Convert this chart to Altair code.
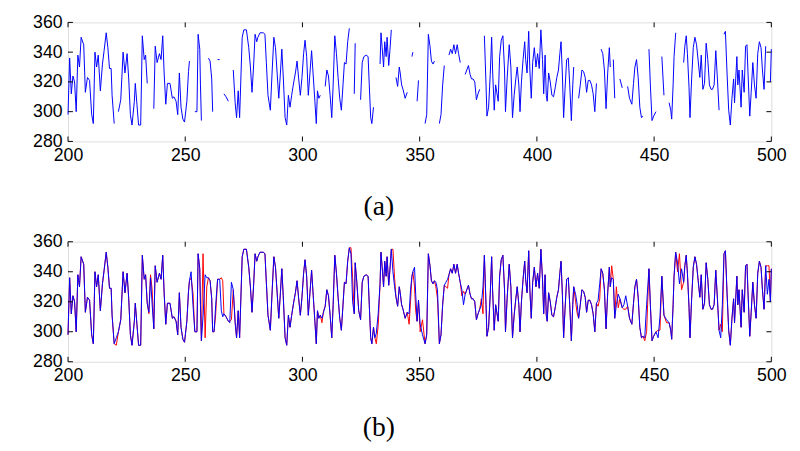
import altair as alt
import pandas as pd

# sample positions (x) and values of the full series (blue)
t = [
 200.0, 200.7, 201.4, 202.1, 202.8, 203.5, 204.2, 204.9, 205.6, 206.7,
 207.4, 208.3, 209.2, 210.1, 210.8, 211.5, 212.2, 212.9, 213.8, 214.7,
 215.4, 216.3, 217.0, 217.7, 218.4, 218.8, 219.7, 220.6, 221.5, 222.5,
 223.5, 224.3, 225.2, 225.9, 226.6, 227.3, 228.3, 228.7, 229.4, 230.1,
 231.0, 231.7, 232.5, 233.1, 233.8, 234.5, 235.2, 235.9, 236.6, 237.2,
 238.0, 239.0, 239.7, 240.4, 241.0, 241.7, 242.4, 243.5, 244.5, 245.2,
 246.1, 246.8, 247.5, 248.2, 249.0, 249.7, 250.7, 251.4, 251.8, 252.5,
 253.3, 254.1, 255.0, 255.5, 256.2, 256.5, 256.9, 257.6, 258.5, 259.2,
 259.9, 260.6, 261.3, 261.7, 262.3, 263.0, 263.8, 264.7, 265.4, 266.0,
 266.5, 267.4, 268.4, 269.0, 269.7, 270.5, 271.3, 271.9, 272.6, 273.2,
 274.3, 275.0, 276.1, 277.1, 277.8, 278.5, 279.2, 279.8, 280.5, 281.0,
 281.9, 283.3, 284.0, 284.6, 285.3, 286.3, 287.1, 287.8, 288.5, 289.2,
 289.9, 290.6, 291.2, 291.8, 292.6, 293.3, 294.0, 294.7, 295.4, 296.3,
 297.0, 297.7, 298.4, 299.1, 299.8, 300.5, 301.1, 301.8, 302.5, 303.2,
 303.9, 304.6, 305.3, 305.9, 306.4, 307.0, 307.6, 308.3, 309.0, 309.7,
 310.4, 311.1, 311.8, 312.5, 313.1, 313.8, 314.5, 315.2, 315.9, 316.6,
 317.3, 317.9, 318.6, 319.3, 320.0, 320.7, 321.4, 322.1, 322.5, 323.2,
 324.0, 324.8, 325.5, 326.2, 327.2, 328.0, 328.5, 329.1, 329.6, 330.3,
 330.9, 331.5, 332.3, 333.1, 333.5, 334.0, 334.6, 335.1, 335.7, 336.1,
 336.8, 337.3, 337.9, 338.6, 339.3, 339.9, 340.6, 341.3, 341.7, 342.3,
 342.9, 343.8, 344.7, 345.5, 346.1, 346.7, 347.1, 347.8, 348.3, 348.9,
 349.5, 350.2, 351.2, 352.3, 353.0, 353.7, 354.4, 355.0, 355.7, 356.3,
 356.9, 357.6, 358.4, 359.1, 359.8, 360.5, 361.2, 361.9, 362.5, 363.2,
 363.9, 364.6, 365.3, 366.0, 366.6, 367.3, 368.0, 368.7, 369.4, 370.1,
 370.8, 371.5, 372.1, 372.8, 373.5, 374.2, 374.9, 375.6, 376.3, 377.0,
 377.6, 378.3, 378.7, 379.4, 380.1, 380.7, 381.1, 381.8, 382.4, 383.5,
 384.1, 384.8, 385.5, 386.2, 386.6, 387.3, 388.2, 388.9, 389.6, 390.3,
 391.0, 391.6, 392.3, 392.8, 393.4, 394.1, 394.8, 395.2, 395.8, 396.5,
 397.0, 397.6, 398.2, 398.9, 399.6, 400.3, 401.0, 401.7, 402.4, 402.9,
 403.5, 404.0, 404.4, 405.0, 405.7, 406.4, 407.1, 407.8, 408.5, 409.2,
 409.8, 410.3, 410.9, 411.4, 412.0, 412.7, 413.4, 414.0, 414.7, 415.3,
 415.7, 416.5, 417.2, 417.8, 418.5, 419.2, 419.9, 420.6, 421.2, 421.9,
 422.6, 423.3, 424.0, 424.7, 425.4, 426.1, 426.8, 427.4, 428.1, 428.8,
 429.5, 430.2, 430.9, 431.3, 431.9, 432.6, 433.2, 433.9, 434.7, 435.4,
 436.4, 437.1, 437.9, 438.7, 439.5, 440.5, 441.2, 441.8, 442.5, 443.2,
 443.9, 444.6, 445.3, 446.0, 446.8, 447.8, 448.4, 449.1, 449.8, 450.8,
 451.7, 452.5, 453.3, 454.2, 455.3, 456.4, 457.1, 457.5, 458.1, 458.5,
 459.2, 460.0, 460.8, 461.7, 462.6, 463.1, 463.7, 464.2, 464.9, 465.3,
 466.0, 466.7, 467.4, 468.1, 468.8, 469.5, 470.1, 470.8, 471.5, 472.2,
 472.9, 473.6, 474.3, 474.9, 475.6, 476.3, 477.0, 477.7, 478.4, 479.1,
 479.8, 480.4, 481.1, 481.8, 482.5, 483.2, 483.9, 484.3, 484.8, 485.3,
 485.7, 486.2, 487.1, 487.6, 488.4, 489.0, 489.6, 490.0, 490.8, 491.4,
 492.1, 492.8, 493.5, 494.2, 494.9, 495.6, 496.2, 496.9, 497.6, 498.3,
 499.0, 499.6, 500.0,
]

blue = [
 298, 336, 312, 324, 320, 300, 338, 330, 350, 345,
 313, 323, 321, 298, 292, 340, 330, 338, 314, 332,
 341, 353, 343, 329, 329, 311, 292, 296, 300, 308,
 340, 326, 339, 322, 298, 291, 307, 319, 305, 291,
 291, 351, 335, 338, 319, 313, 336, 318, 302, 344,
 333, 339, 335, 351, 326, 305, 319, 319, 309, 310,
 307, 298, 326, 303, 295, 293, 307, 327, 334, 340,
 318, 300, 300, 352, 342, 318, 294, 310, 338, 336,
 336, 334, 322, 300, 300, 318, 335, 335, 314, 310,
 312, 310, 307, 306, 333, 328, 306, 296, 314, 296,
 350, 355, 355, 343, 330, 313, 332, 352, 347, 350,
 353, 353, 352, 333, 311, 301, 328, 350, 343, 326,
 309, 326, 342, 324, 296, 291, 311, 303, 311, 320,
 326, 334, 322, 311, 323, 339, 348, 337, 311, 326,
 341, 324, 307, 292, 314, 309, 311, 309, 313, 317,
 328, 324, 311, 296, 318, 351, 339, 323, 309, 301,
 318, 333, 332, 347, 356, 352, 320, 312, 346, 333,
 314, 308, 333, 337, 338, 337, 318, 296, 292, 303,
 296, 299, 312, 332, 353, 343, 330, 347, 337, 350,
 331, 341, 355, 340, 330, 323, 317, 330, 326, 318,
 315, 309, 313, 312, 328, 337, 340, 343, 325, 307,
 321, 305, 298, 292, 298, 352, 344, 334, 332, 334,
 333, 328, 292, 298, 318, 331, 333, 335, 338, 342,
 339, 345, 339, 345, 339, 333, 328, 318, 325, 328,
 331, 325, 322, 322, 320, 308, 312, 315, 318, 330,
 351, 318, 297, 303, 325, 350, 328, 301, 318, 307,
 337, 348, 351, 328, 300, 322, 345, 330, 296, 311,
 322, 330, 318, 300, 320, 335, 347, 335, 326, 354,
 328, 309, 333, 343, 330, 339, 329, 355, 335, 312,
 338, 311, 307, 326, 320, 311, 310, 316, 323, 328,
 339, 347, 324, 296, 315, 335, 336, 318, 294, 318,
 330, 325, 318, 309, 318, 328, 327, 323, 313, 321,
 321, 318, 312, 300, 319, 321, 332, 342, 339, 328,
 302, 326, 343, 330, 336, 335, 309, 318, 325, 322,
 316, 318, 324, 317, 309, 305, 319, 330, 335, 323,
 303, 296, 297, 296, 318, 342, 318, 294, 297, 300,
 296, 310, 337, 311, 308, 306, 301, 295, 318, 337,
 353, 346, 332, 342, 333, 344, 351, 339, 316, 296,
 322, 343, 350, 345, 334, 323, 338, 315, 319, 346,
 335, 318, 315, 315, 318, 341, 322, 301, 296, 318,
 352, 354, 326, 301, 291, 309, 322, 306, 322, 337,
 318, 328, 303, 328, 313, 344, 345, 328, 297, 313,
 333, 318, 309, 339, 347, 343, 328, 315, 344, 325,
 335, 320, 342,
]

# samples missing in panel (a); red = original values at those samples in panel (b)
gap_t = [
 220.6, 234.5, 235.2, 235.9, 252.5, 253.3, 257.6, 258.5, 259.2, 262.3,
 263.0, 265.4, 266.0, 269.0, 269.7, 308.3, 309.0, 320.7, 321.4, 323.2,
 324.0, 330.9, 331.5, 332.3, 338.6, 339.3, 345.5, 346.1, 347.8, 348.3,
 350.2, 351.2, 356.9, 357.6, 361.2, 361.9, 368.0, 368.7, 376.3, 377.0,
 416.5, 417.2, 426.1, 426.8, 431.9, 433.9, 434.7, 437.1, 437.9, 446.0,
 446.8, 451.7, 452.5, 455.3, 460.0, 460.8, 461.7, 478.4, 479.1, 498.3,
 499.0,
]
red_v = [
 291, 312, 338, 328, 336, 326, 352, 296, 330, 300,
 312, 336, 334, 307, 308, 306, 314, 356, 336, 333,
 314, 296, 292, 304, 355, 336, 305, 320, 330, 314,
 300, 308, 330, 322, 330, 329, 324, 327, 322, 312,
 320, 312, 317, 322, 344, 330, 316, 315, 315, 294,
 300, 301, 301, 306, 340, 352, 328, 305, 300, 344,
 344,
]

x_ticks = [200, 250, 300, 350, 400, 450, 500]
y_ticks = [280, 300, 320, 340, 360]
captions = ["(a)", "(b)"]

assert len(t) == len(blue) and len(gap_t) == len(red_v)

df = pd.DataFrame({"t": t, "v": blue})
key = df["t"].round(1)
gset = {round(g, 1) for g in gap_t}
df["seen"] = ~key.isin(gset)
df["seg"] = (~df["seen"]).cumsum()
rmap = {round(g, 1): r for g, r in zip(gap_t, red_v)}
df["r"] = [rmap.get(round(a, 1), b) for a, b in zip(df["t"], df["v"])]
top_df = df[df["seen"]].copy()

W = 715
FONT = "Liberation Sans"
xs = alt.Scale(domain=[200, 500], nice=False, zero=False)
ys = alt.Scale(domain=[280, 360], nice=False, zero=False)
xaxis = alt.Axis(values=x_ticks, ticks=False, domain=False, grid=False, title=None,
                 labelFont=FONT, labelFontSize=18, labelColor="black", labelPadding=5,
                 labelFlush=False, format="d")
yaxis = alt.Axis(values=y_ticks, ticks=False, domain=False, grid=False, title=None,
                 labelFont=FONT, labelFontSize=18, labelColor="black", labelPadding=6,
                 format="d")

xt_df = pd.DataFrame({"t": x_ticks})
yt_df = pd.DataFrame({"v": y_ticks})


def panel(data_layers, H, cap):
    ticks = [
        alt.Chart(xt_df).mark_rule(color="black", strokeWidth=1).encode(
            x=alt.X("t:Q", scale=xs, axis=xaxis), y=alt.value(H), y2=alt.value(H - 5)),
        alt.Chart(xt_df).mark_rule(color="black", strokeWidth=1).encode(
            x=alt.X("t:Q", scale=xs, axis=xaxis), y=alt.value(0), y2=alt.value(5)),
        alt.Chart(yt_df).mark_rule(color="black", strokeWidth=1).encode(
            y=alt.Y("v:Q", scale=ys, axis=yaxis), x=alt.value(0), x2=alt.value(5)),
        alt.Chart(yt_df).mark_rule(color="black", strokeWidth=1).encode(
            y=alt.Y("v:Q", scale=ys, axis=yaxis), x=alt.value(W), x2=alt.value(W - 5)),
    ]
    text = alt.Chart(pd.DataFrame({"c": [cap]})).mark_text(
        font="Liberation Serif", fontSize=28, color="black", baseline="middle", align="center"
    ).encode(text="c:N", x=alt.value(316), y=alt.value(H + 67))
    return alt.layer(*data_layers, *ticks, text).properties(width=W, height=H)


top_line = alt.Chart(top_df).mark_line(color="#0000ff", strokeWidth=1).encode(
    x=alt.X("t:Q", scale=xs, axis=xaxis),
    y=alt.Y("v:Q", scale=ys, axis=yaxis),
    detail="seg:N",
)
red_line = alt.Chart(df).mark_line(color="#ff0000", strokeWidth=1).encode(
    x=alt.X("t:Q", scale=xs, axis=xaxis),
    y=alt.Y("r:Q", scale=ys, axis=yaxis),
)
blue_line = alt.Chart(df).mark_line(color="#0000ff", strokeWidth=1).encode(
    x=alt.X("t:Q", scale=xs, axis=xaxis),
    y=alt.Y("v:Q", scale=ys, axis=yaxis),
)

pa = panel([top_line], 121, captions[0])
pb = panel([red_line, blue_line], 122, captions[1])

chart = alt.vconcat(pa, pb, spacing=102, bounds="flush").properties(
    padding={"left": 24, "top": 1, "right": 5, "bottom": 0},
).configure_view(stroke="black", strokeWidth=1).configure(background="white")

chart.save("out.html", embed_options={"renderer": "svg", "actions": False})
